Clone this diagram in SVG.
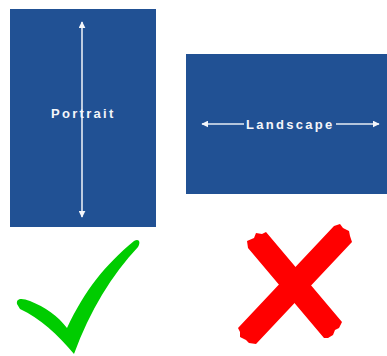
<svg xmlns="http://www.w3.org/2000/svg" width="387" height="356" viewBox="0 0 387 356">
<style>
.card{fill:#215194}
.lbl{font-family:"Liberation Sans",Arial,sans-serif;font-weight:bold;font-size:13px;letter-spacing:2.3px;fill:#f4f6fa}
.dim{stroke:#e6ecf4;stroke-width:1.6;fill:none}
</style>
<defs>
<marker id="ah" viewBox="0 0 10 10" refX="9" refY="5" markerWidth="7" markerHeight="7" markerUnits="userSpaceOnUse" orient="auto-start-reverse">
<path d="M0,0 L10,5 L0,10 Z" fill="#f4f6fa"/>
</marker>
</defs>
<rect width="387" height="356" fill="#ffffff"/>
<g id="portrait">
<rect class="card" x="10" y="9" width="146" height="218"/>
<line class="dim" x1="82" y1="22" x2="82" y2="217" marker-start="url(#ah)" marker-end="url(#ah)"/>
<text class="lbl" x="51" y="118">Portrait</text>
</g>
<g id="landscape">
<rect class="card" x="186" y="54" width="201" height="140"/>
<g class="connectors">
<line class="dim" x1="244" y1="124" x2="202" y2="124" marker-end="url(#ah)"/>
<line class="dim" x1="336" y1="124" x2="379" y2="124" marker-end="url(#ah)"/>
</g>
<text class="lbl" x="246" y="128.5">Landscape</text>
</g>
<g id="check">
<path d="M17,304 C16,298 22,298 30,301 C45,307 58,316 67,328 C85,290 105,265 134,241 C139,238 141,242 138,247 C112,275 90,310 74,354 C58,335 40,318 20,309 Z" fill="#00cc00"/>
</g>
<g id="cross" fill="#ff0000">
<path d="M248,248 L247,241 L254,238 L256,233 L262,234 L266,232 L342,322 L339,328 L335,330 L333,335 L328,338 L324,338 Z"/>
<path d="M334,226 L340,224 L343,228 L349,231 L350,236 L352,242 L256,344 L249,343 L246,340 L240,337 L240,332 L238,328 Z"/>
</g>
</svg>
